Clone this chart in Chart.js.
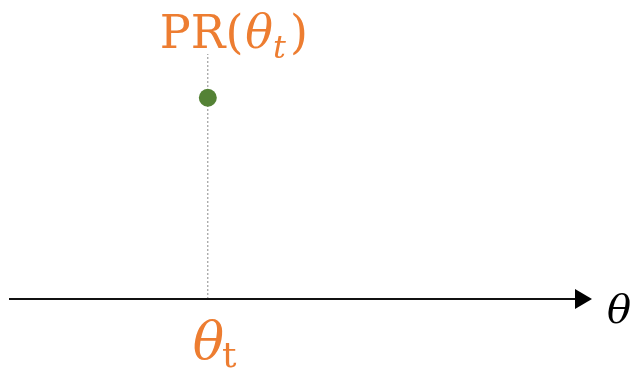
<!DOCTYPE html>
<html>
<head>
<meta charset="utf-8">
<script src="https://cdn.jsdelivr.net/npm/chart.js@4/dist/chart.umd.min.js"></script>
<style>
html,body{margin:0;padding:0;background:#fff;}
#wrap{width:631px;height:371px;position:relative;}
</style>
</head>
<body>
<div id="wrap"><canvas id="c" width="631" height="371"></canvas></div>
<script>
// Data
const xRange = [0, 10];
const yRange = [0, 10];
const thetaT = [3.5];
const prValue = [6.94];
const guideTop = [8.45];
const labels = { top: ["PR(", "θ", "t", ")"], bottom: ["θ", "t"], axis: "θ" };

const ORANGE = "#ED7D31";

const overlay = {
  id: "overlay",
  afterDatasetsDraw(chart) {
    const ctx = chart.ctx;
    const xs = chart.scales.x, ys = chart.scales.y;
    const x0 = xs.getPixelForValue(xRange[0]);
    const x1 = xs.getPixelForValue(xRange[1]);
    const y0 = ys.getPixelForValue(yRange[0]);
    ctx.save();
    // axis line
    ctx.strokeStyle = "#111";
    ctx.lineWidth = 2;
    ctx.beginPath();
    ctx.moveTo(x0, y0);
    ctx.lineTo(x1, y0);
    ctx.stroke();
    // arrow head
    ctx.fillStyle = "#000";
    ctx.beginPath();
    ctx.moveTo(x1 - 2, y0 - 10);
    ctx.lineTo(x1 + 15, y0);
    ctx.lineTo(x1 - 2, y0 + 10);
    ctx.closePath();
    ctx.fill();
    // axis label
    ctx.fillStyle = "#000";
    ctx.font = "italic 40px 'DejaVu Serif'";
    ctx.textBaseline = "alphabetic";
    ctx.fillText(labels.axis, x1 + 30, y0 + 24);

    const px = xs.getPixelForValue(thetaT[0]);
    // top label
    ctx.fillStyle = ORANGE;
    let x = px - 48;
    const base = 48;
    ctx.font = "46px 'DejaVu Serif'";
    ctx.fillText(labels.top[0], x, base);
    x += ctx.measureText(labels.top[0]).width + 2;
    ctx.font = "italic 46px 'DejaVu Serif'";
    ctx.fillText(labels.top[1], x, base);
    x += ctx.measureText(labels.top[1]).width;
    ctx.font = "italic 32px 'DejaVu Serif'";
    ctx.fillText(labels.top[2], x, base + 10);
    x += ctx.measureText(labels.top[2]).width + 4;
    ctx.font = "46px 'DejaVu Serif'";
    ctx.fillText(labels.top[3], x, base);

    // bottom label
    let bx = px - 15;
    const bb = y0 + 60;
    ctx.font = "italic 52px 'DejaVu Serif'";
    ctx.fillText(labels.bottom[0], bx, bb);
    bx += ctx.measureText(labels.bottom[0]).width - 2;
    ctx.font = "36px 'DejaVu Serif'";
    ctx.fillText(labels.bottom[1], bx, bb + 8);
    ctx.restore();
  }
};

new Chart(document.getElementById("c"), {
  type: "scatter",
  data: {
    datasets: [
      {
        label: "guide",
        data: [{ x: thetaT[0], y: yRange[0] }, { x: thetaT[0], y: guideTop[0] }],
        showLine: true,
        borderColor: "#8a8a8a",
        borderWidth: 1,
        borderDash: [2, 2],
        pointRadius: 0,
        order: 2
      },
      {
        label: "PR",
        data: [{ x: thetaT[0], y: prValue[0] }],
        pointRadius: 9,
        pointBackgroundColor: "#548235",
        pointBorderColor: "#548235",
        pointBorderWidth: 0,
        order: 1
      }
    ]
  },
  options: {
    responsive: false,
    animation: false,
    layout: { padding: { left: 9, right: 54, top: 0, bottom: 72 } },
    plugins: { legend: { display: false }, tooltip: { enabled: false } },
    scales: {
      x: { type: "linear", min: xRange[0], max: xRange[1], display: false },
      y: { type: "linear", min: yRange[0], max: yRange[1], display: false }
    }
  },
  plugins: [overlay]
});
</script>
</body>
</html>
